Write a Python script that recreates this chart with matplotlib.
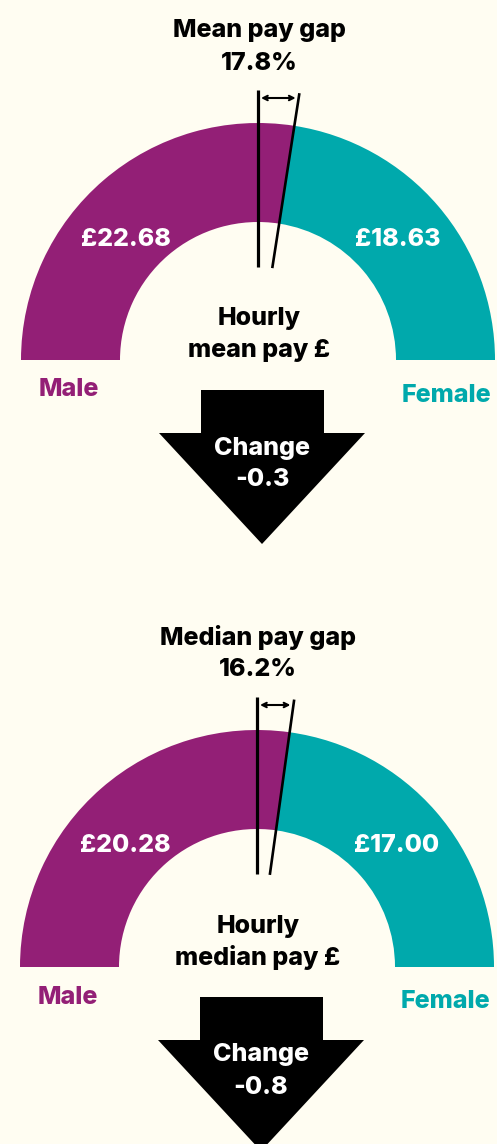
import numpy as np
import matplotlib
matplotlib.use("Agg")
import matplotlib.pyplot as plt
from matplotlib.patches import Wedge, Polygon

# data
measures = ["Mean", "Median"]
male_pay = [22.68, 20.28]
female_pay = [18.63, 17.00]
pay_gap = [17.8, 16.2]
change = [-0.3, -0.8]

purple = "#931f76"
teal = "#00a9ac"
bg = "#fffdf2"

plt.rcParams["font.family"] = ["Inter", "DejaVu Sans"]
plt.rcParams["font.weight"] = "heavy"

W, H = 497, 1144
fig = plt.figure(figsize=(W / 100, H / 100), dpi=100, facecolor=bg)
ax = fig.add_axes([0, 0, 1, 1])
ax.set_xlim(0, W)
ax.set_ylim(0, H)
ax.axis("off")

centres = [(258, H - 360), (257, H - 967)]
r_out, r_in = 237, 138
fs = 18

for i, name in enumerate(measures):
    cx, cy = centres[i]
    # split point of the half ring in proportion to pay
    split = 180 * female_pay[i] / (male_pay[i] + female_pay[i])
    ax.add_patch(Wedge((cx, cy), r_out, split, 180, width=r_out - r_in, color=purple, lw=0))
    ax.add_patch(Wedge((cx, cy), r_out, 0, split, width=r_out - r_in, color=teal, lw=0))

    # gap marker lines
    r1, r2 = 93, 270
    ax.plot([cx, cx], [cy + r1, cy + r2], color="black", lw=2.3, solid_capstyle="butt")
    t = np.radians(split)
    ax.plot([cx + r1 * np.cos(t), cx + r2 * np.cos(t)],
            [cy + r1 * np.sin(t), cy + r2 * np.sin(t)], color="black", lw=1.9, solid_capstyle="butt")
    h = 262
    xr = cx + h / np.tan(t)
    ax.annotate("", xy=(cx + 3, cy + h), xytext=(xr - 3, cy + h),
                arrowprops=dict(arrowstyle="<->", color="black", lw=1.5,
                                shrinkA=0, shrinkB=0, mutation_scale=8))

    ax.text(cx + 1, cy + 330, f"{name} pay gap", ha="center", va="center", fontsize=fs)
    ax.text(cx + 1, cy + 297, f"{pay_gap[i]:.1f}%", ha="center", va="center", fontsize=fs)

    ax.text(cx - 132, cy + 121, f"£{male_pay[i]:.2f}", ha="center", va="center",
            fontsize=fs, color="white")
    ax.text(cx + 140, cy + 121, f"£{female_pay[i]:.2f}", ha="center", va="center",
            fontsize=fs, color="white")

    ax.text(cx + 1, cy + 41, "Hourly", ha="center", va="center", fontsize=fs)
    ax.text(cx + 1, cy + 10, f"{name.lower()} pay £", ha="center", va="center", fontsize=fs)

    ax.text(cx - 189, cy - 30, "Male", ha="center", va="center", fontsize=fs, color=purple)
    ax.text(cx + 188, cy - 35, "Female", ha="center", va="center", fontsize=fs, color=teal)

    # change arrow (points down for a fall)
    ax_ = cx + 4
    top, shoulder, tip = cy - 30, cy - 73, cy - 184
    arrow = [(ax_ - 61, top), (ax_ + 62, top), (ax_ + 62, shoulder), (ax_ + 103, shoulder),
             (ax_, tip), (ax_ - 103, shoulder), (ax_ - 61, shoulder)]
    ax.add_patch(Polygon(arrow, closed=True, color="black", lw=0))
    ax.text(ax_, cy - 88, "Change", ha="center", va="center", fontsize=fs, color="white")
    ax.text(ax_, cy - 120, f"{change[i]:.1f}", ha="center", va="center", fontsize=fs, color="white")

fig.savefig("out.png", dpi=100, facecolor=bg)
